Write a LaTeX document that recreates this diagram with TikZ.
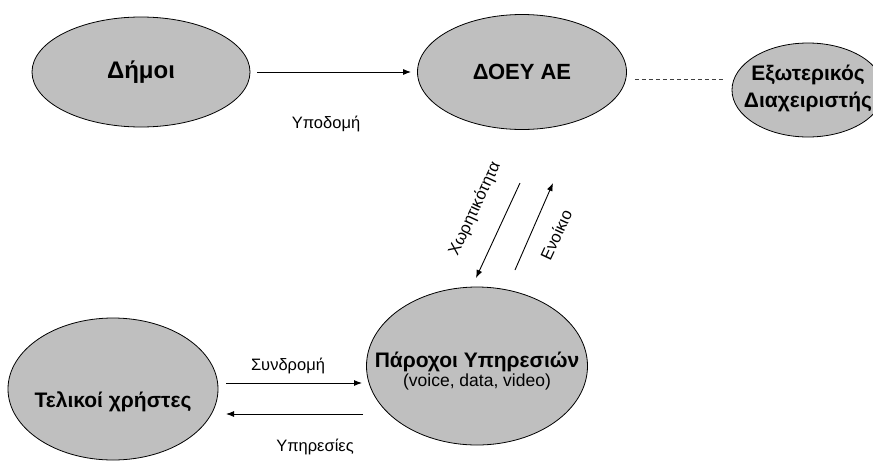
\documentclass[tikz,border=0pt]{standalone}
\usepackage{fontspec}
\setmainfont{Liberation Sans}
\usetikzlibrary{shapes.geometric,arrows.meta}
\begin{document}
\begin{tikzpicture}[x=1pt,y=-1pt,
  ell/.style={ellipse,draw=black,line width=0.8pt,fill=gray!50,inner sep=0pt},
  big/.style={font=\fontsize{21}{26}\selectfont\bfseries,align=center},
  lbl/.style={font=\fontsize{16.5}{19}\selectfont},
  arr/.style={line width=0.9pt,-{Latex[length=8pt,width=6pt]}}]
\useasboundingbox (0,0) rectangle (873,461);
\clip (0,0) rectangle (873,461);
\node[ell,minimum width=218pt,minimum height=110pt] (dimoi) at (141,72) {};
\node[big,font=\fontsize{24}{28}\selectfont\bfseries] (tdimoi) at (141,72) {Δήμοι};
\node[ell,minimum width=209pt,minimum height=115pt] (doey) at (522,72) {};
\node[big,font=\fontsize{22}{26}\selectfont\bfseries] (tdoey) at (522,72) {ΔΟΕΥ ΑΕ};
\node[ell,minimum width=152pt,minimum height=94pt] (ext) at (808,90) {};
\node[big,font=\fontsize{21}{27}\selectfont\bfseries] (text) at (808,88) {Εξωτερικός\\Διαχειριστής};
\node[ell,minimum width=221pt,minimum height=158pt] (par) at (477,366) {};
\node[big] (tpar) at (477,362) {Πάροχοι Υπηρεσιών};
\node[font=\fontsize{17.5}{20}\selectfont] (tpar2) at (477,382) {(voice, data, video)};
\node[ell,minimum width=210pt,minimum height=142pt] (tel) at (113,389) {};
\node[big] (ttel) at (113,402) {Τελικοί χρήστες};
% arrows
\draw[arr,shorten <=7pt,shorten >=6pt] (dimoi) -- (doey);
\node[lbl] (lypo) at (326,124) {Υποδομή};
\draw[line width=0.9pt,black!75,dash pattern=on 4pt off 3pt]
  ([xshift=8pt,yshift=-7pt]doey.east) -- ([xshift=-9pt,yshift=11pt]ext.west);
\coordinate (c1) at (520,183);
\coordinate (c2) at (476,278);
\coordinate (c3) at (515,270);
\coordinate (c4) at (553,183);
\draw[arr] (c1) -- (c2);
\draw[arr] (c3) -- (c4);
\node[lbl,rotate=65] (lxor) at (475,209) {Χωρητικότητα};
\node[lbl,rotate=65] (lenoik) at (556,235) {Ενοίκιο};
\coordinate (s1) at (226,383);
\coordinate (s2) at (362,383);
\coordinate (y1) at (363,414);
\coordinate (y2) at (226,414);
\draw[arr] (s1) -- (s2);
\draw[arr] (y1) -- (y2);
\node[lbl] (lsyn) at (288,366) {Συνδρομή};
\node[lbl] (lyp) at (315,447) {Υπηρεσίες};
\end{tikzpicture}
\end{document}
